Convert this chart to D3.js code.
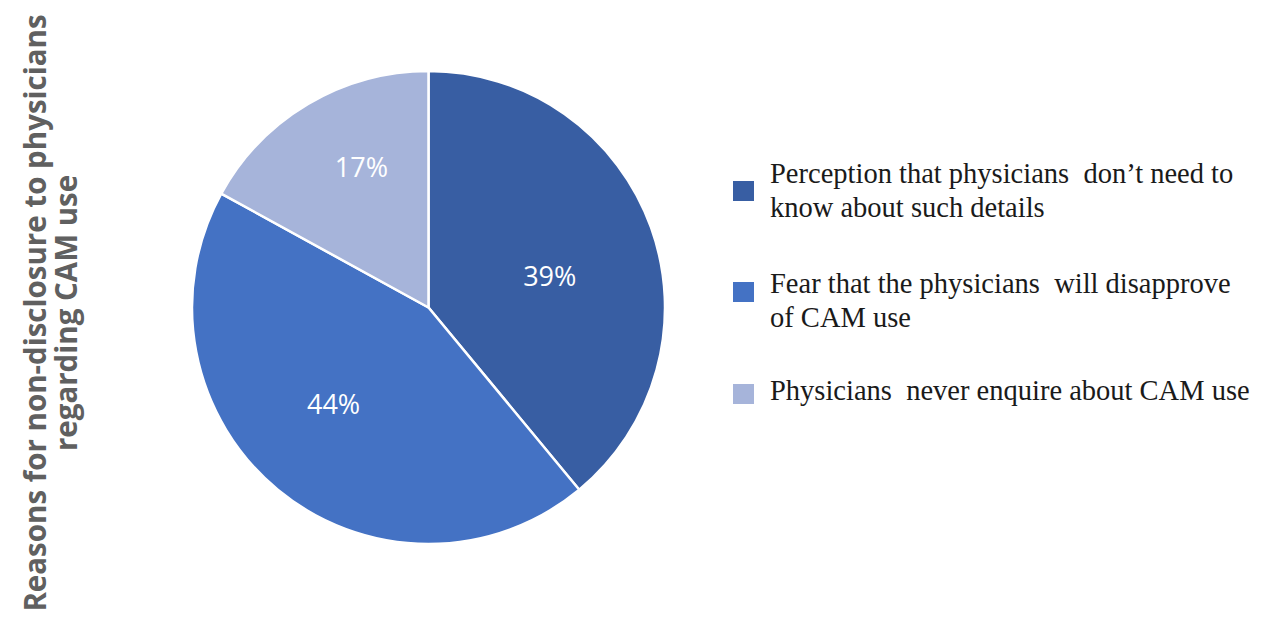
<!DOCTYPE html>
<html>
<head>
<meta charset="utf-8">
<script src="https://cdn.jsdelivr.net/npm/d3@7"></script>
<style>
  html, body { margin: 0; padding: 0; background: #ffffff; }
  svg { display: block; }
</style>
</head>
<body>
<svg id="chart" width="1263" height="620"></svg>
<script>
// Reasons for non-disclosure of CAM use to physicians (share of respondents)
const categories = [
  "Perception that physicians  don\u2019t need to know about such details",
  "Fear that the physicians  will disapprove of CAM use",
  "Physicians  never enquire about CAM use"
];
const legendLines = [
  ["Perception that physicians  don\u2019t need to", "know about such details"],
  ["Fear that the physicians  will disapprove", "of CAM use"],
  ["Physicians  never enquire about CAM use"]
];
const values = [39, 44, 17];
const colors = ["#385ea3", "#4472c4", "#a6b4da"];
const titleLines = ["Reasons for non-disclosure to physicians", "regarding CAM use"];

const svg = d3.select("#chart");

// ---- Pie ----
const cx = 428.5, cy = 307.5, radius = 236.5;
const data = categories.map((c, i) => ({ category: c, value: values[i], color: colors[i] }));

const pie = d3.pie().sort(null).value(d => d.value);
const arc = d3.arc().innerRadius(0).outerRadius(radius);

// Inside labels: placed along each slice's bisector, nudged a little clockwise,
// at a distance that keeps the text clear of the slice edges.
const labelRadiusFactor = [0.53, 0.57, 0.66];
const labelTurn = 0.09; // radians
function labelPos(d, i) {
  const r = radius * labelRadiusFactor[i];
  const a = (d.startAngle + d.endAngle) / 2 + labelTurn;
  return [Math.sin(a) * r, -Math.cos(a) * r];
}

const g = svg.append("g").attr("transform", `translate(${cx},${cy})`);
const arcs = pie(data);

g.selectAll("path.slice")
  .data(arcs)
  .join("path")
  .attr("class", "slice")
  .attr("d", arc)
  .attr("fill", d => d.data.color)
  .attr("stroke", "#ffffff")
  .attr("stroke-width", 2.5)
  .attr("stroke-linejoin", "round");

g.selectAll("text.pct")
  .data(arcs)
  .join("text")
  .attr("class", "pct")
  .attr("transform", (d, i) => `translate(${labelPos(d, i)})`)
  .attr("text-anchor", "middle")
  .attr("dominant-baseline", "central")
  .attr("font-family", "'Open Sans', 'Noto Sans', sans-serif")
  .attr("font-size", 27)
  .attr("fill", "#ffffff")
  .text(d => d.data.value + "%");

// ---- Legend ----
const legend = svg.append("g").attr("transform", "translate(733,0)");
const swatchTop = [181, 282, 384];
const firstBaseline = [183, 293, 400];
const lineGap = 34;

legendLines.forEach((lines, i) => {
  const item = legend.append("g");
  item.append("rect")
    .attr("x", 0).attr("y", swatchTop[i])
    .attr("width", 21).attr("height", 20)
    .attr("fill", colors[i]);
  lines.forEach((ln, j) => {
    item.append("text")
      .attr("x", 37)
      .attr("y", firstBaseline[i] + j * lineGap)
      .attr("font-family", "'Liberation Serif', 'Times New Roman', serif")
      .attr("font-size", 28.5)
      .attr("fill", "#1a1a1a")
      .style("white-space", "pre")
      .text(ln);
  });
});

// ---- Rotated title ----
const title = svg.append("g").attr("transform", "translate(0,313) rotate(-90)");
titleLines.forEach((t, i) => {
  title.append("text")
    .attr("x", 0)
    .attr("y", 46 + i * 31)
    .attr("text-anchor", "middle")
    .attr("font-family", "'Open Sans', 'Noto Sans', sans-serif")
    .attr("font-weight", 700)
    .attr("font-size", 29.5)
    .attr("fill", "#606060")
    .text(t);
});
</script>
</body>
</html>
